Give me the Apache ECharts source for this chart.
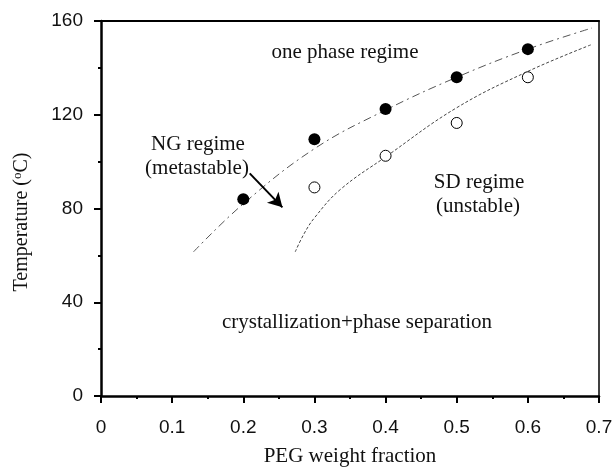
<!DOCTYPE html>
<html>
<head>
<meta charset="utf-8">
<script src="https://cdn.jsdelivr.net/npm/echarts@6/dist/echarts.min.js"></script>
<style>
  html, body { margin: 0; padding: 0; background: #fff; }
  #chart { width: 614px; height: 468px; }
</style>
</head>
<body>
<div id="chart"></div>
<script>
// measured points (PEG weight fraction, temperature)
var fracFilled = [0.2, 0.3, 0.4, 0.5, 0.6];
var tempFilled = [84, 109.5, 122.5, 136, 148];
var fracOpen = [0.3, 0.4, 0.5, 0.6];
var tempOpen = [89, 102.5, 116.5, 136];

// guide curves
var binodalX = [0.13, 0.2, 0.3, 0.4, 0.5, 0.6, 0.69];
var binodalY = [61.5, 82, 105.5, 122, 136, 148, 157];
var spinodalX = [0.273, 0.285, 0.3, 0.336, 0.4, 0.5, 0.6, 0.69];
var spinodalY = [61.5, 69, 76, 88, 102, 123, 138.5, 150];

var arrowFrom = [0.209, 95];
var arrowTo = [0.255, 80.5];

var xTicks = [0, 0.1, 0.2, 0.3, 0.4, 0.5, 0.6, 0.7];
var yTicks = [0, 40, 80, 120, 160];

function pairs(xs, ys) {
  return xs.map(function (x, i) { return [x, ys[i]]; });
}

var chart = echarts.init(document.getElementById('chart'));
var serif = '"Liberation Serif", "Times New Roman", serif';
var sans = '"Liberation Sans", Arial, sans-serif';

function note(text, x, y) {
  return {
    type: 'text', x: x, y: y,
    style: { text: text, font: '21px ' + serif, fill: '#111', align: 'center', verticalAlign: 'middle' }
  };
}

var option = {
  animation: false,
  grid: { left: 101, right: 15, top: 21, bottom: 72, containLabel: false, outerBoundsMode: 'none' },
  xAxis: [
    {
      type: 'value',
      min: xTicks[0],
      max: xTicks[xTicks.length - 1],
      interval: 0.1,
      name: 'PEG weight fraction',
      nameLocation: 'middle',
      nameGap: 50,
      nameTextStyle: { fontFamily: serif, fontSize: 21, color: '#111' },
      axisLine: { show: true, onZero: false, lineStyle: { color: '#000', width: 2.5 } },
      axisTick: { show: true, length: 7, lineStyle: { color: '#000', width: 2 } },
      minorTick: { show: true, splitNumber: 2, length: 3, lineStyle: { color: '#000', width: 2 } },
      splitLine: { show: false },
      axisLabel: {
        fontFamily: sans, fontSize: 19, color: '#111', margin: 22,
        formatter: function (v) { return xTicks.indexOf(+v.toFixed(1)) >= 0 ? String(+v.toFixed(1)) : ''; }
      }
    },
    {
      type: 'value', position: 'top', min: 0, max: 0.7,
      axisLine: { show: true, onZero: false, lineStyle: { color: '#000', width: 2 } },
      axisTick: { show: false }, axisLabel: { show: false }, splitLine: { show: false }
    }
  ],
  yAxis: [
    {
      type: 'value',
      min: yTicks[0],
      max: yTicks[yTicks.length - 1],
      interval: 40,
      axisLine: { show: true, onZero: false, lineStyle: { color: '#000', width: 2.5 } },
      axisTick: { show: true, length: 7, lineStyle: { color: '#000', width: 2 } },
      minorTick: { show: true, splitNumber: 2, length: 3, lineStyle: { color: '#000', width: 2 } },
      splitLine: { show: false },
      axisLabel: { fontFamily: sans, fontSize: 19, color: '#111', margin: 18 }
    },
    {
      type: 'value', position: 'right', min: 0, max: 160,
      axisLine: { show: true, onZero: false, lineStyle: { color: '#000', width: 1.5 } },
      axisTick: { show: false }, axisLabel: { show: false }, splitLine: { show: false }
    }
  ],
  series: [
    {
      name: 'binodal',
      type: 'line',
      data: pairs(binodalX, binodalY),
      smooth: 0.4,
      showSymbol: false,
      lineStyle: { color: '#555', width: 1, type: [8, 4, 2, 4] },
      z: 1
    },
    {
      name: 'spinodal',
      type: 'line',
      data: pairs(spinodalX, spinodalY),
      smooth: 0.4,
      showSymbol: false,
      lineStyle: { color: '#444', width: 1, type: [3, 2] },
      z: 1
    },
    {
      name: 'cloud point',
      type: 'scatter',
      data: pairs(fracFilled, tempFilled),
      symbol: 'circle',
      symbolSize: 12,
      itemStyle: { color: '#000', opacity: 1 },
      z: 3
    },
    {
      name: 'spinodal point',
      type: 'scatter',
      data: pairs(fracOpen, tempOpen),
      symbol: 'circle',
      symbolSize: 11,
      itemStyle: { color: '#fff', borderColor: '#000', borderWidth: 1, opacity: 1 },
      z: 3
    },
    {
      name: 'arrow',
      type: 'line',
      data: [arrowFrom, arrowTo],
      showSymbol: false,
      lineStyle: { width: 0 },
      markLine: {
        silent: true,
        symbol: ['none', 'arrow'],
        symbolSize: [12, 14],
        label: { show: false },
        lineStyle: { color: '#000', width: 2, type: 'solid' },
        data: [[{ coord: arrowFrom }, { coord: arrowTo }]]
      },
      z: 2
    }
  ],
  graphic: [
    note('one phase regime', 345, 52),
    note('NG regime', 198, 144),
    note('(metastable)', 197, 168),
    note('SD regime', 479, 182),
    note('(unstable)', 478, 206),
    note('crystallization+phase separation', 357, 322),
    {
      type: 'text', x: 22, y: 222, rotation: Math.PI / 2,
      style: {
        text: '{n|Temperature (}{s|o}{n|C)}',
        align: 'center', verticalAlign: 'middle',
        rich: {
          n: { font: '20px ' + serif, fill: '#111' },
          s: { font: '13px ' + serif, fill: '#111', padding: [0, 0, 9, 0] }
        }
      }
    }
  ]
};

chart.setOption(option);
</script>
</body>
</html>
